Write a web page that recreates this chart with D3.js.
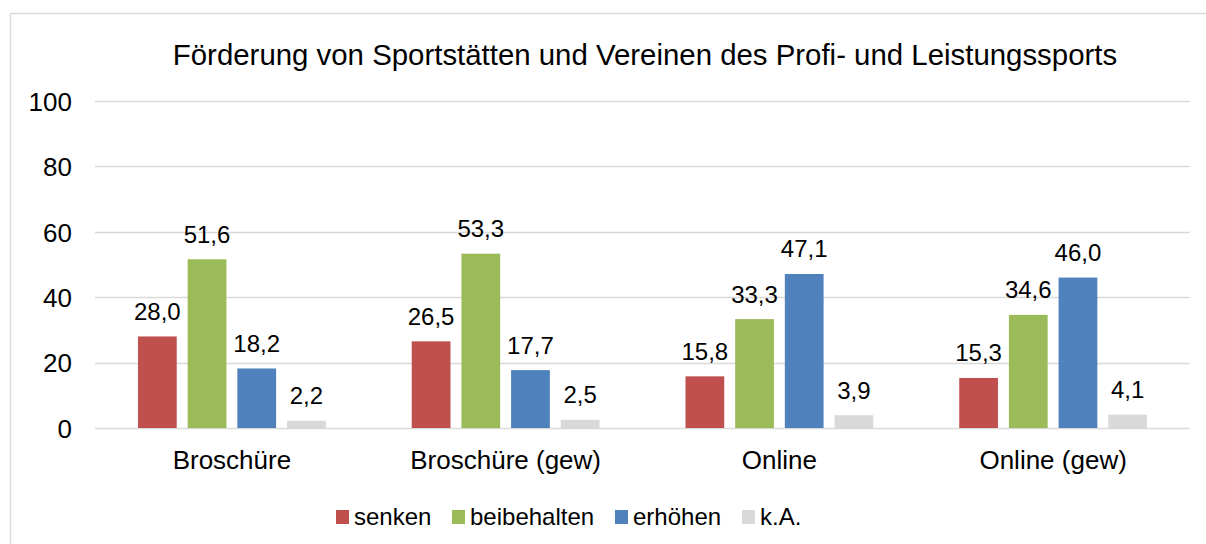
<!DOCTYPE html>
<html>
<head>
<meta charset="utf-8">
<script src="https://cdn.jsdelivr.net/npm/d3@7"></script>
<style>
  body { margin: 0; background: #fff; }
  text { font-family: "Liberation Sans", Arial, sans-serif; fill: #000; }
</style>
</head>
<body>
<script>
let categories = ["Broschüre", "Broschüre (gew)", "Online", "Online (gew)"]
let seriesNames = ["senken", "beibehalten", "erhöhen", "k.A."]
let senken = [28.0, 26.5, 15.8, 15.3]
let beibehalten = [51.6, 53.3, 33.3, 34.6]
let erhoehen = [18.2, 17.7, 47.1, 46.0]
let keineAngabe = [2.2, 2.5, 3.9, 4.1]
let yTicks = [0, 20, 40, 60, 80, 100]
let colors = ["#c0504d", "#9bbb59", "#4f81bd", "#d9d9d9"]

let w = 1206
let h = 544
let allSeries = [senken, beibehalten, erhoehen, keineAngabe]

let svg = d3.select("body").append("svg")
  .attr("width", w)
  .attr("height", h)

// chart border
svg.append("rect")
  .attr("x", 10.5).attr("y", 13.5)
  .attr("width", 1210).attr("height", 560)
  .attr("fill", "none")
  .attr("stroke", "#d9d9d9")
  .attr("stroke-width", 1.5)

let x0 = d3.scaleBand().domain(categories).range([95, 1190])
let x1 = d3.scaleBand().domain(seriesNames)
  .range([x0.bandwidth() * 0.157, x0.bandwidth() * 0.843])
  .paddingInner(0.22)
let y = d3.scaleLinear().domain([0, 100]).range([428, 101])

// gridlines
svg.append("g")
  .selectAll("line")
  .data(yTicks)
  .enter()
  .append("line")
  .attr("x1", 95).attr("x2", 1190)
  .attr("y1", d => Math.round(y(d)) + 0.5)
  .attr("y2", d => Math.round(y(d)) + 0.5)
  .attr("stroke", "#d9d9d9")
  .attr("stroke-width", 1.5)

// y axis labels
let yAxis = d3.axisLeft(y).tickValues(yTicks).tickSize(0).tickPadding(0)
let yg = svg.append("g").attr("transform", "translate(72,0)").call(yAxis)
yg.select(".domain").remove()
yg.selectAll("text")
  .style("font-family", "Liberation Sans, Arial, sans-serif")
  .style("font-size", "26px")
  .attr("fill", "#000")
  .attr("dy", "0.36em")

// bars
let groups = svg.selectAll(".grp")
  .data(categories)
  .enter()
  .append("g")
  .attr("class", "grp")
  .attr("transform", c => "translate(" + x0(c) + ",0)")

groups.each(function (c, ci) {
  let g = d3.select(this)
  let vals = seriesNames.map((s, si) => ({ s: s, si: si, v: allSeries[si][ci] }))
  g.selectAll("rect")
    .data(vals)
    .enter()
    .append("rect")
    .attr("x", d => x1(d.s))
    .attr("width", x1.bandwidth())
    .attr("y", d => y(d.v))
    .attr("height", d => y(0) - y(d.v))
    .attr("fill", d => colors[d.si])
  g.selectAll(".lbl")
    .data(vals)
    .enter()
    .append("text")
    .attr("class", "lbl")
    .attr("x", d => x1(d.s) + x1.bandwidth() / 2)
    .attr("y", d => y(d.v) - 16.5)
    .attr("text-anchor", "middle")
    .style("font-size", "24px")
    .text(d => d.v.toFixed(1).replace(".", ","))
})

// x category labels
svg.append("g")
  .selectAll("text")
  .data(categories)
  .enter()
  .append("text")
  .attr("x", c => x0(c) + x0.bandwidth() / 2)
  .attr("y", 469)
  .attr("text-anchor", "middle")
  .style("font-size", "26px")
  .text(c => c)

// title
svg.append("text")
  .attr("x", 645)
  .attr("y", 65)
  .attr("text-anchor", "middle")
  .style("font-size", "29.4px")
  .text("Förderung von Sportstätten und Vereinen des Profi- und Leistungssports")

// legend
let legendX = [336, 452, 615, 742]
let legend = svg.append("g")
seriesNames.forEach((s, i) => {
  legend.append("rect")
    .attr("x", legendX[i]).attr("y", 510)
    .attr("width", 13).attr("height", 14)
    .attr("fill", colors[i])
  legend.append("text")
    .attr("x", legendX[i] + 18)
    .attr("y", 525)
    .style("font-size", "24px")
    .text(s)
})
</script>
</body>
</html>
